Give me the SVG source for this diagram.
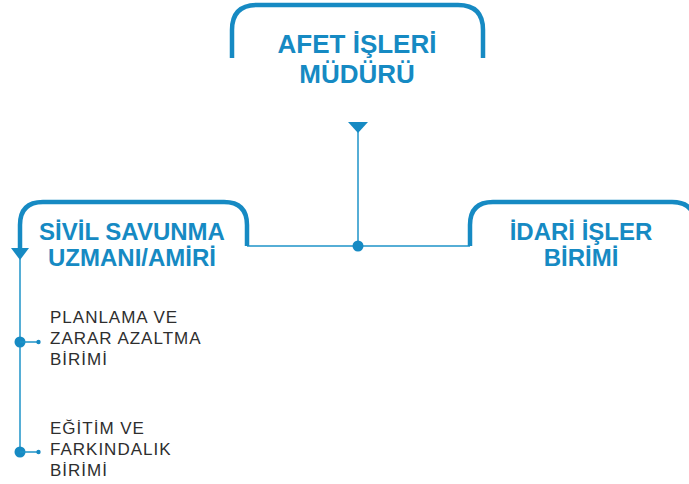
<svg xmlns="http://www.w3.org/2000/svg" width="689" height="484" viewBox="0 0 689 484">
<style>
.frame{fill:none;stroke:#168ac3;stroke-width:4.5;stroke-linecap:butt}
.thin{fill:none;stroke:#1e93c9;stroke-width:1.5}
.blue{fill:#168ac3}
.title{font-family:"Liberation Sans",Arial,sans-serif;font-weight:bold;fill:#168ac3;text-anchor:middle}
.sub{font-family:"Liberation Sans",Arial,sans-serif;font-size:17px;letter-spacing:1px;fill:#2e2e2e}
</style>
<rect width="689" height="484" fill="#ffffff"/>
<g id="connectors">
<polygon class="blue" points="348,122 368,122 358,133"/>
<line class="thin" x1="358" y1="132" x2="358" y2="246"/>
<line class="thin" x1="247" y1="246" x2="470" y2="246"/>
<circle class="blue" cx="358" cy="246" r="5.5"/>
<polygon class="blue" points="11,248 29,248 20,260"/>
<line class="thin" x1="20" y1="259" x2="20" y2="452"/>
<circle class="blue" cx="20" cy="342" r="5.5"/>
<line class="thin" x1="20" y1="342" x2="38" y2="342"/>
<circle class="blue" cx="38.5" cy="342" r="2.2"/>
<circle class="blue" cx="20" cy="452" r="5.5"/>
<line class="thin" x1="20" y1="452" x2="38" y2="452"/>
<circle class="blue" cx="38.5" cy="452" r="2.2"/>
</g>
<g id="node-afet">
<path class="frame" d="M232,58 V30 Q232,5 257,5 H458 Q483,5 483,30 V58"/>
<text class="title" x="357" y="53" font-size="26">AFET İŞLERİ</text>
<text class="title" x="357" y="83" font-size="26">MÜDÜRÜ</text>
</g>
<g id="node-sivil">
<path class="frame" d="M20,249 V225 Q20,202 43,202 H224 Q247,202 247,225 V246"/>
<text class="title" x="132" y="240" font-size="24">SİVİL SAVUNMA</text>
<text class="title" x="132" y="266" font-size="24">UZMANI/AMİRİ</text>
</g>
<g id="node-idari">
<path class="frame" d="M470,246 V225 Q470,202 493,202 H672 Q695,202 695,225"/>
<text class="title" x="581" y="240" font-size="24">İDARİ İŞLER</text>
<text class="title" x="581" y="266" font-size="24">BİRİMİ</text>
</g>
<g id="node-planlama">
<text class="sub" x="50" y="323">PLANLAMA VE</text>
<text class="sub" x="50" y="344">ZARAR AZALTMA</text>
<text class="sub" x="50" y="365">BİRİMİ</text>
</g>
<g id="node-egitim">
<text class="sub" x="50" y="434">EĞİTİM VE</text>
<text class="sub" x="50" y="455">FARKINDALIK</text>
<text class="sub" x="50" y="476">BİRİMİ</text>
</g>
</svg>
